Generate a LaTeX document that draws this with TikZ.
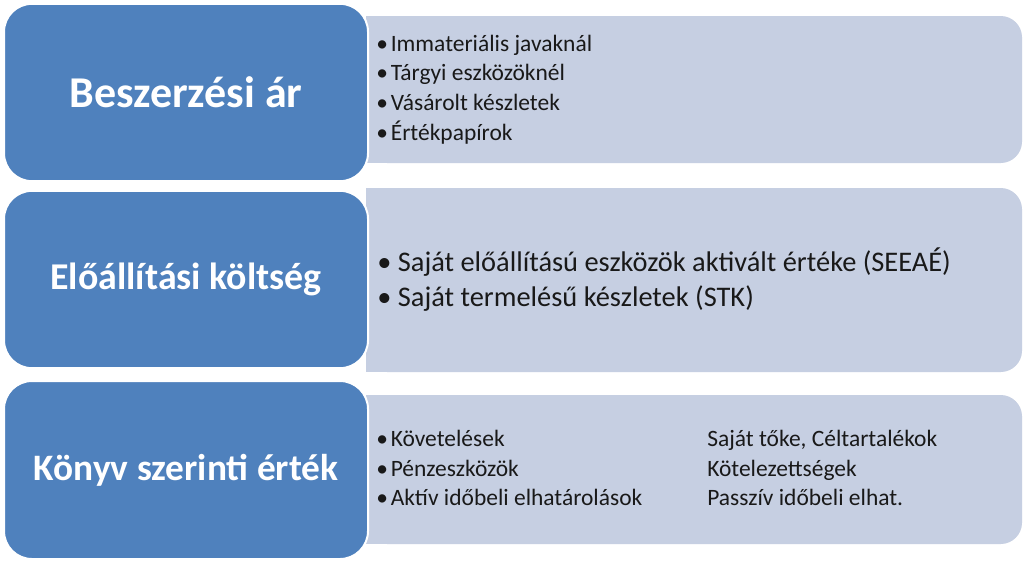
\documentclass[tikz,border=0pt]{standalone}
\usepackage{fontspec}
\setmainfont{Carlito}
\definecolor{boxblue}{RGB}{79,129,189}
\definecolor{listgrey}{RGB}{198,207,226}
\newcommand{\bul}[1][0.62em]{\makebox[#1][l]{\textbullet}}
\tikzset{
  headbox/.style={fill=boxblue, draw=white, line width=1.5pt, rounded corners=21pt,
    text=white, font=\bfseries\fontsize{30}{36}\selectfont,
    minimum width=273pt, minimum height=133pt, inner sep=0pt},
  listbox/.style={fill=listgrey, rounded corners=16pt, minimum width=492pt, inner sep=0pt},
  listtext/.style={anchor=west, align=left, inner sep=0pt, text=black!90,
    font=\fontsize{17.6}{22.3}\selectfont},
}
\begin{document}
\begin{tikzpicture}[x=0.75pt, y=-0.75pt]
  %%%%% START %%%%%
  \useasboundingbox[fill=white] (0,0) rectangle (1023,562);

  % grey lists behind the headings
  \node[listbox, minimum height=110.25pt] (list1) at (694, 89.5) {};
  \fill[listgrey] (list1.north west) rectangle ([xshift=40pt]list1.south west);

  \node[listbox, minimum height=138pt] (list2) at (694, 280) {};
  \fill[listgrey] (list2.north west) rectangle ([xshift=40pt]list2.south west);

  \node[listbox, minimum height=111.75pt] (list3) at (694, 469.5) {};
  \fill[listgrey] (list3.north west) rectangle ([xshift=40pt]list3.south west);

  % headings
  \node[headbox, font=\bfseries\fontsize{33}{40}\selectfont] (beszerzes) at (186, 92.5) {Beszerzési ár};
  \node[headbox, font=\bfseries\fontsize{28.4}{34}\selectfont] (eloallitas) at (186, 279.5) {Előállítási költség};
  \node[headbox, font=\bfseries\fontsize{28}{34}\selectfont, minimum height=133.5pt] (konyv) at (186, 470) {Könyv szerinti érték};

  % list texts
  \node[listtext] (items1) at (376, 89.5) {\bul Immateriális javaknál\\
    \bul Tárgyi eszközöknél\\ \bul Vásárolt készletek\\ \bul Értékpapírok};

  \node[listtext, font=\fontsize{21.3}{26.25}\selectfont] (items2) at (377, 280)
    {\bul[0.5em] Saját előállítású eszközök aktivált értéke (SEEAÉ)\\
     \bul[0.5em] Saját termelésű készletek (STK)};

  \node[listtext] (items3) at (376, 468) {\bul Követelések\\
    \bul Pénzeszközök\\ \bul Aktív időbeli elhatárolások};
  \node[listtext] (items3r) at (707, 468) {Saját tőke, Céltartalékok\\
    Kötelezettségek\\ Passzív időbeli elhat.};
  %%%%% END %%%%%
\end{tikzpicture}
\end{document}
